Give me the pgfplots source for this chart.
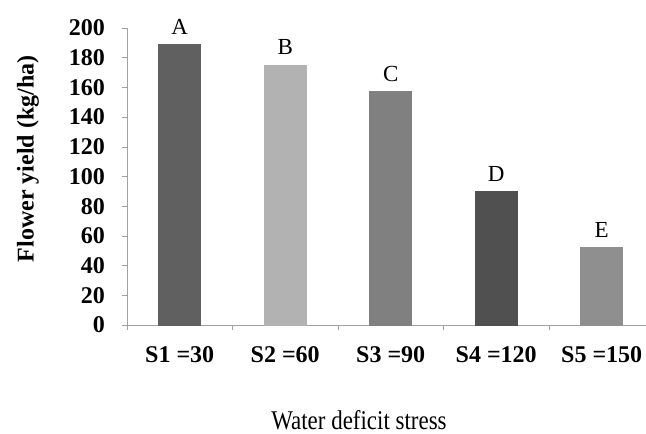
\documentclass[border=0pt]{standalone}
\usepackage{pgfplots}
\pgfplotsset{compat=1.18}
\usepackage{fontspec}
\setmainfont{Liberation Serif}
\newfontfamily\condfont[FakeStretch=0.85]{Liberation Serif}
\definecolor{cA}{HTML}{606060}
\definecolor{cB}{HTML}{B2B2B2}
\definecolor{cC}{HTML}{808080}
\definecolor{cD}{HTML}{505050}
\definecolor{cE}{HTML}{8F8F8F}
\definecolor{axgray}{HTML}{A0A0A0}
\begin{document}
\begin{tikzpicture}
\begin{axis}[
    name=ax,
    scale only axis,
    width=259.5pt, height=148.5pt,
    ybar, bar width=21pt, bar shift=0pt,
    xmin=-0.5, xmax=4.42,
    ymin=0, ymax=200,
    ytick={0,20,...,200},
    xtick={0,...,4},
    xticklabels={S1 =30, S2 =60, S3 =90, S4 =120, S5 =150},
    minor xtick={-0.5,0.5,1.5,2.5,3.5},
    axis x line*=bottom, axis y line*=left,
    axis line style={draw=axgray},
    tick align=outside,
    major tick length=2.5pt, minor tick length=2.5pt,
    major x tick style={draw=none},
    minor x tick style={draw=axgray},
    ytick style={draw=axgray},
    /pgf/number format/assume math mode=true,
    tick label style={font=\bfseries\fontsize{12}{14}\selectfont},
    yticklabel style={xshift=-5pt},
    xticklabel style={yshift=-4.5pt},
    ylabel={Flower yield (kg/ha)},
    ylabel style={at={(axis description cs:-0.191,0.56)}, anchor=center, font=\bfseries\fontsize{12}{14}\selectfont},
    xlabel={Water deficit stress},
    xlabel style={at={(axis description cs:0.447,-0.322)}, anchor=center, font=\condfont\fontsize{13.5}{15}\selectfont},
    point meta=explicit symbolic,
    nodes near coords,
    every node near coord/.append style={font=\fontsize{11.5}{13}\selectfont, yshift=1.5pt},
]
\addplot[fill=cA, draw=cA] coordinates {(0,189) [A]};
\addplot[fill=cB, draw=cB] coordinates {(1,175) [B]};
\addplot[fill=cC, draw=cC] coordinates {(2,157) [C]};
\addplot[fill=cD, draw=cD] coordinates {(3,90) [D]};
\addplot[fill=cE, draw=cE] coordinates {(4,52) [E]};
\end{axis}
\pgfresetboundingbox
\path[use as bounding box] ([shift={(-63.5pt,-54pt)}]ax.south west) rectangle ([shift={(0pt,14pt)}]ax.north east);
\end{tikzpicture}
\end{document}
